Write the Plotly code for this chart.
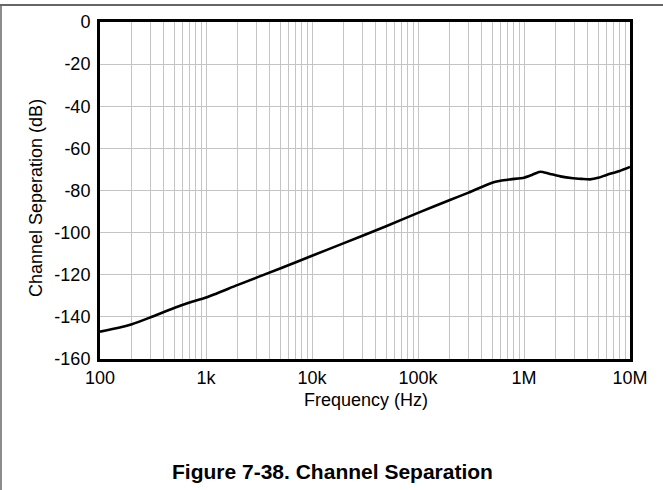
import plotly.graph_objects as go

freq_hz = [100, 150, 200, 300, 500, 700, 1e3, 2e3, 5e3, 1e4, 2e4, 5e4, 1e5, 2e5, 3e5,
           5e5, 6e5, 7.5e5, 1e6, 1.2e6, 1.42e6, 1.7e6, 2.2e6, 2.9e6, 3.5e6, 4.2e6, 5e6, 6e6, 8e6, 1e7]
sep_db = [-147, -145.2, -143.5, -140.2, -135.8, -133.2, -130.8, -124.8, -117, -111, -105,
          -97, -90.6, -84.5, -81, -76.3, -75.4, -74.7, -73.9, -72.5, -71.1, -71.9, -73.3,
          -74.2, -74.5, -74.7, -74.0, -72.6, -70.7, -68.8]

x_tick_labels = ["100", "1k", "10k", "100k", "1M", "10M"]
y_ticks = [0, -20, -40, -60, -80, -100, -120, -140, -160]
y_tick_labels = ["0", "-20", "-40", "-60", "-80", "-100", "-120", "-140", "-160"]

tickvals, ticktext = [], []
for d in range(5):
    for m in range(1, 10):
        tickvals.append(m * 10 ** (d + 2))
        ticktext.append(x_tick_labels[d] if m == 1 else "")
tickvals.append(1e7)
ticktext.append(x_tick_labels[5])

fig = go.Figure()
fig.add_trace(go.Scatter(x=freq_hz, y=sep_db, mode="lines",
                         line=dict(color="black", width=2.6, shape="spline", smoothing=0.6),
                         showlegend=False, hoverinfo="skip"))

font = "Liberation Sans, Arial, sans-serif"
L, R, T, B = 100, 33, 22, 131
PW, PH = 663 - L - R, 490 - T - B


def px(x):
    return (x - L) / PW


def py(y):
    return (490 - B - y) / PH


fig.update_layout(
    width=663, height=490,
    margin=dict(l=L, r=R, t=T, b=B),
    paper_bgcolor="white", plot_bgcolor="white",
    font=dict(family=font, color="black", size=18),
    xaxis=dict(type="log", range=[2, 7], tickvals=tickvals, ticktext=ticktext,
               showgrid=True, gridcolor="#c4c4c4", gridwidth=1,
               showline=True, linecolor="black", linewidth=3, mirror=True,
               ticks="", tickfont=dict(size=18), zeroline=False),
    yaxis=dict(range=[-160, 0], tickvals=y_ticks, ticktext=y_tick_labels,
               showgrid=True, gridcolor="#c4c4c4", gridwidth=1,
               showline=True, linecolor="black", linewidth=3, mirror=True,
               ticks="", tickfont=dict(size=18), zeroline=False, ticklabelstandoff=3),
    shapes=[
        dict(type="line", xref="paper", yref="paper", x0=px(0), x1=px(663), y0=py(5), y1=py(5),
             line=dict(color="#333333", width=1.5)),
        dict(type="line", xref="paper", yref="paper", x0=px(1), x1=px(1), y0=py(5), y1=py(490),
             line=dict(color="#666666", width=1.5)),
    ],
    annotations=[
        dict(text="Frequency (Hz)", xref="paper", yref="paper",
             x=px(366), y=py(400), xanchor="center", yanchor="middle",
             showarrow=False, font=dict(size=18, family=font)),
        dict(text="Channel Seperation (dB)", xref="paper", yref="paper", textangle=-90,
             x=px(36), y=py(198), xanchor="center", yanchor="middle",
             showarrow=False, font=dict(size=18, family=font)),
        dict(text="<b>Figure 7-38. Channel Separation</b>", xref="paper", yref="paper",
             x=px(332), y=py(471), xanchor="center", yanchor="middle",
             showarrow=False, font=dict(size=21, family=font)),
    ],
)

fig.write_html("out.html", config={"displayModeBar": False},
               post_script="document.body.style.margin='0';")
